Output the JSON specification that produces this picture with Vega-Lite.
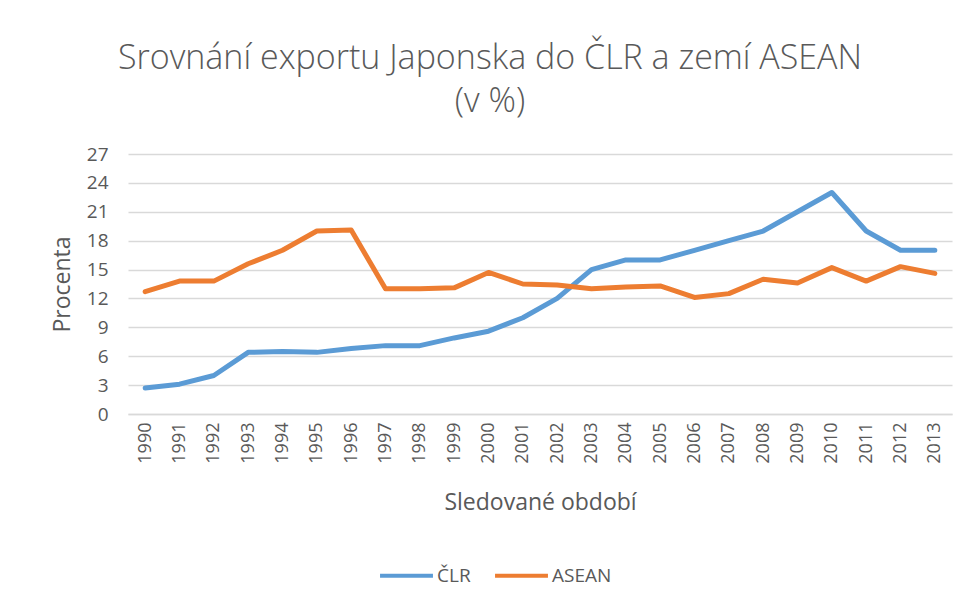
{
  "$schema": "https://vega.github.io/schema/vega-lite/v6.json",
  "autosize": "none",
  "width": 824,
  "height": 260,
  "padding": {"left": 128, "top": 154, "right": 17, "bottom": 194},
  "background": "white",
  "title": {
    "text": ["Srovnání exportu Japonska do ČLR a zemí ASEAN", "(v %)"],
    "font": "Open Sans",
    "fontSize": 34,
    "fontWeight": 300,
    "lineHeight": 43,
    "color": "#595959",
    "anchor": "middle",
    "dx": -50,
    "offset": 26
  },
  "config": {
    "view": {"stroke": null},
    "font": "Open Sans"
  },
  "data": {
    "values": [
      {"rok": "1990", "serie": "ČLR", "hodnota": 2.7},
      {"rok": "1991", "serie": "ČLR", "hodnota": 3.1},
      {"rok": "1992", "serie": "ČLR", "hodnota": 4.0},
      {"rok": "1993", "serie": "ČLR", "hodnota": 6.4},
      {"rok": "1994", "serie": "ČLR", "hodnota": 6.5},
      {"rok": "1995", "serie": "ČLR", "hodnota": 6.4},
      {"rok": "1996", "serie": "ČLR", "hodnota": 6.8},
      {"rok": "1997", "serie": "ČLR", "hodnota": 7.1},
      {"rok": "1998", "serie": "ČLR", "hodnota": 7.1},
      {"rok": "1999", "serie": "ČLR", "hodnota": 7.9},
      {"rok": "2000", "serie": "ČLR", "hodnota": 8.6},
      {"rok": "2001", "serie": "ČLR", "hodnota": 10.0},
      {"rok": "2002", "serie": "ČLR", "hodnota": 12.0},
      {"rok": "2003", "serie": "ČLR", "hodnota": 15.0},
      {"rok": "2004", "serie": "ČLR", "hodnota": 16.0},
      {"rok": "2005", "serie": "ČLR", "hodnota": 16.0},
      {"rok": "2006", "serie": "ČLR", "hodnota": 17.0},
      {"rok": "2007", "serie": "ČLR", "hodnota": 18.0},
      {"rok": "2008", "serie": "ČLR", "hodnota": 19.0},
      {"rok": "2009", "serie": "ČLR", "hodnota": 21.0},
      {"rok": "2010", "serie": "ČLR", "hodnota": 23.0},
      {"rok": "2011", "serie": "ČLR", "hodnota": 19.0},
      {"rok": "2012", "serie": "ČLR", "hodnota": 17.0},
      {"rok": "2013", "serie": "ČLR", "hodnota": 17.0},
      {"rok": "1990", "serie": "ASEAN", "hodnota": 12.7},
      {"rok": "1991", "serie": "ASEAN", "hodnota": 13.8},
      {"rok": "1992", "serie": "ASEAN", "hodnota": 13.8},
      {"rok": "1993", "serie": "ASEAN", "hodnota": 15.6},
      {"rok": "1994", "serie": "ASEAN", "hodnota": 17.0},
      {"rok": "1995", "serie": "ASEAN", "hodnota": 19.0},
      {"rok": "1996", "serie": "ASEAN", "hodnota": 19.1},
      {"rok": "1997", "serie": "ASEAN", "hodnota": 13.0},
      {"rok": "1998", "serie": "ASEAN", "hodnota": 13.0},
      {"rok": "1999", "serie": "ASEAN", "hodnota": 13.1},
      {"rok": "2000", "serie": "ASEAN", "hodnota": 14.7},
      {"rok": "2001", "serie": "ASEAN", "hodnota": 13.5},
      {"rok": "2002", "serie": "ASEAN", "hodnota": 13.4},
      {"rok": "2003", "serie": "ASEAN", "hodnota": 13.0},
      {"rok": "2004", "serie": "ASEAN", "hodnota": 13.2},
      {"rok": "2005", "serie": "ASEAN", "hodnota": 13.3},
      {"rok": "2006", "serie": "ASEAN", "hodnota": 12.1},
      {"rok": "2007", "serie": "ASEAN", "hodnota": 12.5},
      {"rok": "2008", "serie": "ASEAN", "hodnota": 14.0},
      {"rok": "2009", "serie": "ASEAN", "hodnota": 13.6},
      {"rok": "2010", "serie": "ASEAN", "hodnota": 15.2},
      {"rok": "2011", "serie": "ASEAN", "hodnota": 13.8},
      {"rok": "2012", "serie": "ASEAN", "hodnota": 15.3},
      {"rok": "2013", "serie": "ASEAN", "hodnota": 14.6}
    ]
  },
  "mark": {"type": "line", "strokeWidth": 5, "strokeCap": "round", "strokeJoin": "round"},
  "encoding": {
    "x": {
      "field": "rok",
      "type": "ordinal",
      "scale": {"type": "point", "padding": 0.5},
      "axis": {
        "title": "Sledované období",
        "titleFont": "Open Sans",
        "titleFontSize": 23,
        "titleFontWeight": "normal",
        "titleColor": "#595959",
        "titlePadding": 28,
        "labelAngle": -90,
        "labelFontSize": 18,
        "labelFontWeight": "normal",
        "labelColor": "#595959",
        "labelPadding": 8,
        "ticks": false,
        "domainColor": "#d9d9d9",
        "domainWidth": 1.5
      }
    },
    "y": {
      "field": "hodnota",
      "type": "quantitative",
      "scale": {"domain": [0, 27], "nice": false},
      "axis": {
        "values": [0, 3, 6, 9, 12, 15, 18, 21, 24, 27],
        "title": "Procenta",
        "titleFont": "Open Sans",
        "titleFontSize": 23,
        "titleFontWeight": "normal",
        "titleColor": "#595959",
        "titlePadding": 12,
        "labelFontSize": 19,
        "labelFontWeight": "normal",
        "labelColor": "#595959",
        "labelPadding": 20,
        "ticks": false,
        "domain": false,
        "gridColor": "#d9d9d9",
        "gridWidth": 1.5
      }
    },
    "color": {
      "field": "serie",
      "type": "nominal",
      "sort": ["ČLR", "ASEAN"],
      "scale": {"domain": ["ČLR", "ASEAN"], "range": ["#5B9BD5", "#ED7D31"]},
      "legend": {
        "title": null,
        "orient": "none",
        "direction": "horizontal",
        "legendX": 250,
        "legendY": 393,
        "symbolType": "stroke",
        "symbolSize": 2800,
        "symbolStrokeWidth": 4,
        "labelFontSize": 19,
        "labelFontWeight": "normal",
        "labelColor": "#595959",
        "labelOffset": 2,
        "columnPadding": 16
      }
    }
  }
}
